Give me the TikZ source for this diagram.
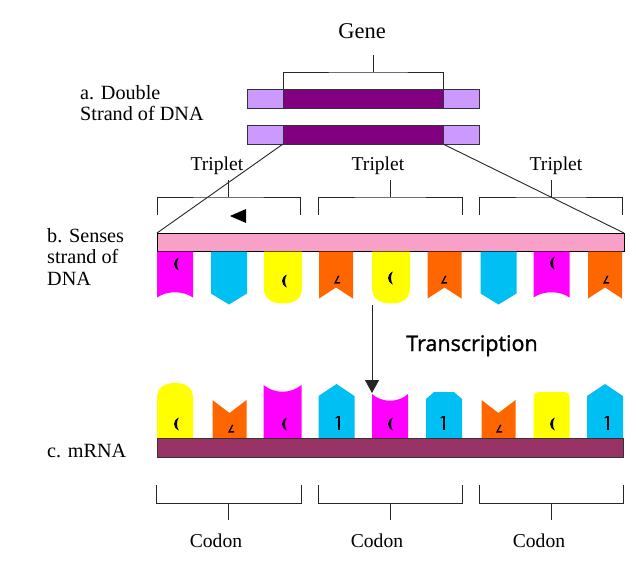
\documentclass[tikz,border=0pt]{standalone}
\usepackage{fontspec}
\setmainfont{Liberation Serif}
\newfontfamily\trfont[FakeBold=1.3]{Open Sans}
\usetikzlibrary{arrows.meta}
\definecolor{lpur}{RGB}{204,153,255}
\definecolor{dpur}{RGB}{128,0,128}
\definecolor{pinkb}{RGB}{248,160,200}
\definecolor{mrnab}{RGB}{153,51,102}
\definecolor{bmag}{RGB}{255,0,255}
\definecolor{bcya}{RGB}{0,191,243}
\definecolor{byel}{RGB}{255,255,0}
\definecolor{bora}{RGB}{255,102,0}
\tikzset{
  bar/.style={draw=black!80, line width=0.8pt, inner sep=0pt, outer sep=0pt, minimum height=19pt},
  lbl/.style={inner sep=0pt, anchor=base, font=\fontsize{19.6}{22}\selectfont},
  side/.style={inner sep=0pt, anchor=base west, font=\fontsize{20.2}{22}\selectfont},
  brk/.style={line width=0.9pt, black!85},
  conn/.style={line width=0.9pt, black!85},
  sMag/.pic={\fill[bmag] (-18,0) -- (18,0) -- (18,46) .. controls (8,39) and (-8,39) .. (-18,46) -- cycle;},
  sCya/.pic={\fill[bcya] (-18,0) -- (18,0) -- (18,42) -- (0,53) -- (-18,42) -- cycle;},
  sYel/.pic={\fill[byel] (-19,0) -- (19,0) -- (19,36) .. controls (19,48) and (11,52) .. (0,52) .. controls (-11,52) and (-19,48) .. (-19,36) -- cycle;},
  sOra/.pic={\fill[bora] (-17,0) -- (17,0) -- (17,47) -- (0,36) -- (-17,47) -- cycle;},
  mYelR/.pic={\fill[byel] (-18,0) -- (-18,-40) .. controls (-18,-51) and (-10,-55) .. (0,-55) .. controls (10,-55) and (18,-51) .. (18,-40) -- (18,0) -- cycle;},
  mYelF/.pic={\fill[byel] (-18,0) -- (-18,-41) .. controls (-18,-44) and (-16,-46) .. (-13,-46) -- (13,-46) .. controls (16,-46) and (18,-44) .. (18,-41) -- (18,0) -- cycle;},
  mOra/.pic={\fill[bora] (-17,0) -- (-17,-38) -- (0,-25) -- (17,-38) -- (17,0) -- cycle;},
  mMagA/.pic={\fill[bmag] (-19,0) -- (-19,-53) .. controls (-8,-44) and (8,-44) .. (19,-53) -- (19,0) -- cycle;},
  mMagB/.pic={\fill[bmag] (-18,0) -- (-18,-44) .. controls (-8,-35) and (8,-35) .. (18,-44) -- (18,0) -- cycle;},
  mCyaP/.pic={\fill[bcya] (-18,0) -- (-18,-42) -- (0,-54) -- (18,-42) -- (18,0) -- cycle;},
  mCyaC/.pic={\fill[bcya] (-18,0) -- (-18,-39) -- (-10,-46) -- (10,-46) -- (18,-39) -- (18,0) -- cycle;},
  cres/.pic={\fill (1.8,-6.5) .. controls (-4.5,-3.5) and (-4.5,3.5) .. (1.8,6.5) .. controls (-0.6,2.5) and (-0.6,-2.5) .. cycle;},
  angm/.pic={\fill (1,-4.5) -- (2.4,-4) -- (-0.8,2) -- (3,2) -- (3,3.5) -- (-3,3.5) -- cycle;},
  elm/.pic={\fill (-0.2,-7) -- (1.6,-7) -- (1.6,7) -- (-0.2,7) -- cycle; \fill (-0.2,-7) -- (-2.4,-5.6) -- (-2.4,-4.6) -- (-0.2,-5.6) -- cycle;}
}
\begin{document}
\begin{tikzpicture}[x=1pt,y=-1pt]
\useasboundingbox[fill=white] (0,0) rectangle (636,566);

% Gene and double strand
\node[lbl, font=\fontsize{22.5}{25}\selectfont] (gene) at (362,38) {Gene};
\node[bar, fill=lpur, minimum width=232pt] (s1) at (363,98.5) {};
\node[bar, fill=dpur, minimum width=160pt] (s1in) at (363,98.5) {};
\node[bar, fill=lpur, minimum width=232pt] (s2) at (363,134.5) {};
\node[bar, fill=dpur, minimum width=160pt] (s2in) at (363,134.5) {};
\coordinate (gbr) at (373,72);
\coordinate (gtop) at (373,55);
\draw[brk] (s1in.north west) |- (gbr) -| (s1in.north east);
\draw[brk] (gbr) -- (gtop);

\node[side] (la1) at (80,99) {a. Double};
\node[side] (la2) at (80,120) {Strand of DNA};

% Triplets
\node[lbl] (t1) at (217,170) {Triplet};
\node[lbl] (t2) at (378,170) {Triplet};
\node[lbl] (t3) at (556,170) {Triplet};
\draw[brk] (157,215) |- (228,197) -| (300,215); \draw[brk] (228,197) -- (228,180);
\draw[brk] (318,215) |- (390,197) -| (462,215); \draw[brk] (390,197) -- (390,180);
\draw[brk] (479,215) |- (551,197) -| (622,215); \draw[brk] (551,197) -- (551,180);
\fill (230,216) -- (246,209) -- (246,223) -- cycle;

% Sense strand
\node[bar, fill=pinkb, draw=black, minimum width=467pt, minimum height=18pt] (pink) at (390.5,242) {};
\draw[conn] (s2in.south west) -- (pink.north west);
\draw[conn] (s2in.south east) -- (pink.north east);

\pic at (175,251.5) {sMag};
\pic at (229,251.5) {sCya};
\pic at (283,251.5) {sYel};
\pic at (336,251.5) {sOra};
\pic at (391,251.5) {sYel};
\pic at (444.5,251.5) {sOra};
\pic at (498.5,251.5) {sCya};
\pic at (551.5,251.5) {sMag};
\pic at (605,251.5) {sOra};

\pic at (177,264) {cres};
\pic at (285,281) {cres};
\pic at (337,280) {angm};
\pic at (391,278) {cres};
\pic at (444,280) {angm};
\pic at (553,263) {cres};
\pic at (606,280) {angm};

\node[side] (lb1) at (47,242) {b. Senses};
\node[side] (lb2) at (47,263.5) {strand of};
\node[side] (lb3) at (47,285) {DNA};

% Transcription arrow
\coordinate (arrS) at (372,305);
\coordinate (arrE) at (372,393);
\draw[conn, -{Triangle[width=14pt,length=13pt]}] (arrS) -- (arrE);
\node[inner sep=0pt, anchor=base, font=\trfont\fontsize{21.5}{25}\selectfont] (trans) at (472,351) {Transcription};

% mRNA
\pic at (175,438) {mYelR};
\pic at (229.5,438) {mOra};
\pic at (282.5,438) {mMagA};
\pic at (336.5,438) {mCyaP};
\pic at (390,438) {mMagB};
\pic at (444,438) {mCyaC};
\pic at (498.5,438) {mOra};
\pic at (551.5,438) {mYelF};
\pic at (605,438) {mCyaP};

\pic at (177,424) {cres};
\pic at (231,429) {angm};
\pic at (285,424) {cres};
\pic at (338,423) {elm};
\pic at (391,424) {cres};
\pic at (443,423) {elm};
\pic at (499,429) {angm};
\pic at (553,424) {cres};
\pic at (607,423) {elm};

\node[bar, fill=mrnab, draw=black!80, minimum width=466pt] (mrna) at (390,447.5) {};
\node[side] (lc) at (47,457) {c. mRNA};

% Codons
\draw[brk] (156,485) |- (228,503) -| (301,485); \draw[brk] (228,503) -- (228,520);
\draw[brk] (318,485) |- (390,503) -| (462,485); \draw[brk] (390,503) -- (390,520);
\draw[brk] (479,485) |- (551,503) -| (623,485); \draw[brk] (551,503) -- (551,520);
\node[lbl] (c1) at (216,547) {Codon};
\node[lbl] (c2) at (377,547) {Codon};
\node[lbl] (c3) at (539,547) {Codon};
\end{tikzpicture}
\end{document}
